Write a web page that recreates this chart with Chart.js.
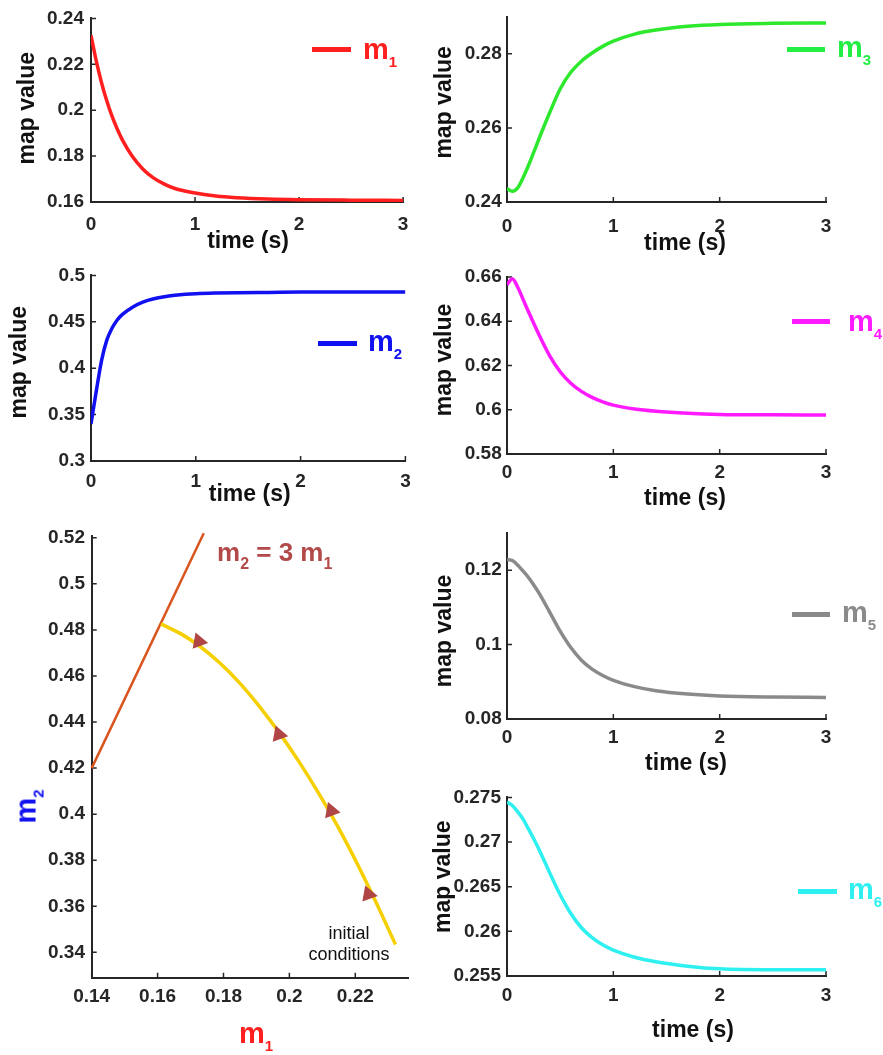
<!DOCTYPE html>
<html><head><meta charset="utf-8">
<script src="https://cdn.jsdelivr.net/npm/chart.js@4.4.1/dist/chart.umd.min.js"></script>
<style>
html,body{margin:0;padding:0;background:#fff;}
#root{position:relative;width:883px;height:1055px;overflow:hidden;font-family:"Liberation Sans",Arial,Helvetica,sans-serif;}
canvas{position:absolute;}
.lab{position:absolute;white-space:nowrap;line-height:1;}
.ln{position:absolute;height:5px;}
</style></head><body><div id="root"></div>
<script>
// ---------- data ----------
const times = [0, 0.05, 0.1, 0.15, 0.2, 0.25, 0.3, 0.4, 0.5, 0.6, 0.7, 0.8, 0.9, 1.0, 1.2, 1.4, 1.7, 2.0, 2.5, 3.0];
const m1 = [0.2326, 0.2216, 0.2122, 0.2043, 0.1976, 0.1920, 0.1872, 0.1797, 0.1743, 0.1705, 0.1679, 0.1660, 0.1648, 0.1639, 0.1626, 0.1619, 0.1613, 0.1610, 0.1608, 0.1607];
const m2 = [0.340, 0.375, 0.408, 0.430, 0.443, 0.452, 0.458, 0.466, 0.4715, 0.4748, 0.477, 0.4785, 0.4796, 0.4803, 0.481, 0.4814, 0.4817, 0.482, 0.482, 0.482];
const m3 = [0.2436, 0.2429, 0.2438, 0.2465, 0.2497, 0.2533, 0.2570, 0.2640, 0.2705, 0.2750, 0.2780, 0.2802, 0.2820, 0.2834, 0.2853, 0.2864, 0.2874, 0.2879, 0.2882, 0.2883];
const m4 = [0.6565, 0.6592, 0.6555, 0.6500, 0.6445, 0.6392, 0.6340, 0.6245, 0.6172, 0.6120, 0.6083, 0.6056, 0.6036, 0.6021, 0.6003, 0.5993, 0.5984, 0.5979, 0.5977, 0.5976];
const m5 = [0.1229, 0.1226, 0.1214, 0.1198, 0.1181, 0.1161, 0.1139, 0.1088, 0.1036, 0.0992, 0.0958, 0.0934, 0.0917, 0.0904, 0.0887, 0.0876, 0.0867, 0.0862, 0.0859, 0.0858];
const m6 = [0.2745, 0.2741, 0.2734, 0.2726, 0.2715, 0.2704, 0.2692, 0.2666, 0.2641, 0.2620, 0.2604, 0.2593, 0.2585, 0.2579, 0.2571, 0.2566, 0.2561, 0.2558, 0.2557, 0.2557];

// phase portrait (m1, m2)
const phaseM1 = [0.161, 0.167, 0.173, 0.179, 0.185, 0.191, 0.197, 0.203, 0.209, 0.215, 0.221, 0.2265, 0.2322];
const phaseM2 = [0.4826, 0.4784, 0.4727, 0.4655, 0.4568, 0.4466, 0.4352, 0.4226, 0.4088, 0.3938, 0.3773, 0.3611, 0.3434];
const lineM1 = [0.14, 0.174];          // m2 = 3 m1
const lineM2 = [0.42, 0.522];
const arrowM1 = [0.1725, 0.1968, 0.2127, 0.2240];
const arrowM2 = [0.4750, 0.4346, 0.4014, 0.3652];

// tick labels
const timeTicks = [0, 1, 2, 3];
const yTicks1 = [0.16, 0.18, 0.2, 0.22, 0.24];
const yTicks2 = [0.3, 0.35, 0.4, 0.45, 0.5];
const yTicks3 = [0.24, 0.26, 0.28];
const yTicks4 = [0.58, 0.6, 0.62, 0.64, 0.66];
const yTicks5 = [0.08, 0.1, 0.12];
const yTicks6 = [0.255, 0.26, 0.265, 0.27, 0.275];
const phaseXTicks = [0.14, 0.16, 0.18, 0.2, 0.22];
const phaseYTicks = [0.34, 0.36, 0.38, 0.4, 0.42, 0.44, 0.46, 0.48, 0.5, 0.52];

// ---------- drawing ----------
const root = document.getElementById('root');
const FONT = '"Liberation Sans", Arial, Helvetica, sans-serif';
const AX = '#262626';
const fmt = v => String(Math.round(v * 10000) / 10000);
const pts = (xs, ys) => xs.map((x, i) => ({x: x, y: ys[i]}));

const inwardTicks = {
  id: 'inward',
  beforeDatasetsDraw(chart) {
    const {ctx, chartArea: a, scales: {x, y}} = chart;
    ctx.save(); ctx.strokeStyle = AX; ctx.lineWidth = 1.5; ctx.beginPath();
    x.ticks.forEach(t => { const px = x.getPixelForValue(t.value); ctx.moveTo(px, a.bottom); ctx.lineTo(px, a.bottom - 5); });
    y.ticks.forEach(t => { const py = y.getPixelForValue(t.value); ctx.moveTo(a.left, py); ctx.lineTo(a.left + 5, py); });
    ctx.stroke(); ctx.restore();
  }
};
const titleShift = {
  id: 'tshift',
  afterLayout(chart, args, opts) {
    ['x', 'y'].forEach(id => {
      const s = chart.scales[id];
      if (!s || s._shifted) return;
      const d = (opts && opts[id]) || {};
      const orig = s.drawTitle.bind(s);
      s.drawTitle = function () { const c = this.ctx; c.save(); c.translate(d.dx || 0, d.dy || 0); orig(); c.restore(); };
      s._shifted = true;
    });
  }
};

function panel(p) {
  const c = document.createElement('canvas');
  c.width = p.W; c.height = p.H;
  c.style.left = p.L + 'px'; c.style.top = p.T + 'px';
  c.style.width = p.W + 'px'; c.style.height = p.H + 'px';
  root.appendChild(c);
  const tickFont = {family: FONT, size: 19, weight: 'bold'};
  const titleFont = {family: FONT, size: 23, weight: 'bold'};
  new Chart(c, {
    type: 'line',
    data: {datasets: p.datasets},
    options: {
      responsive: false, animation: false, events: [],
      layout: {padding: {left: 0, top: p.pt - p.T, right: p.L + p.W - p.pr, bottom: 0}},
      plugins: {
        legend: {display: false}, tooltip: {enabled: false}, title: {display: false},
        tshift: {x: {dx: p.xdx || 0}, y: {dy: p.ydy || 0}}
      },
      scales: {
        x: {
          type: 'linear', position: 'bottom', min: p.xmin, max: p.xmax,
          afterFit: s => { s.height = p.T + p.H - p.pb; },
          afterBuildTicks: s => { s.ticks = p.xticks.map(v => ({value: v})); },
          ticks: {font: tickFont, color: AX, padding: p.xtp, maxRotation: 0, autoSkip: false, callback: fmt},
          grid: {display: false, drawTicks: false},
          border: {display: true, color: AX, width: 2},
          title: p.xtitle ? {display: true, text: p.xtitle, font: titleFont, color: '#111', padding: {top: 0, bottom: p.xtpad}} : {display: false}
        },
        y: {
          type: 'linear', position: 'left', min: p.ymin, max: p.ymax,
          afterFit: s => { s.width = p.pl - p.L; },
          afterBuildTicks: s => { s.ticks = p.yticks.map(v => ({value: v})); },
          ticks: {font: tickFont, color: AX, padding: p.ytp, autoSkip: false, callback: fmt},
          grid: {display: false, drawTicks: false},
          border: {display: true, color: AX, width: 2},
          title: p.ytitle ? {display: true, text: p.ytitle, font: titleFont, color: '#111', padding: {top: p.ytpad, bottom: 0}} : {display: false}
        }
      }
    },
    plugins: [inwardTicks, titleShift]
  });
}

function curve(ys, color) {
  return {data: pts(times, ys), borderColor: color, borderWidth: 3.5, pointRadius: 0, fill: false, cubicInterpolationMode: 'monotone'};
}

const common = {xmin: 0, xmax: 3, xticks: timeTicks, xtitle: 'time (s)', ytitle: 'map value'};

panel(Object.assign({}, common, {L: 0, T: 0, W: 420, H: 258, pl: 91, pr: 409, pt: 16, pb: 202,
  ymin: 0.16, ymax: 0.24, yticks: yTicks1, ytp: 7, xtp: 11.6, ytpad: 14.2, ydy: -2, xtpad: 2.2, xdx: 1,
  datasets: [curve(m1, '#ff1f1f')]}));
panel(Object.assign({}, common, {L: 420, T: 0, W: 463, H: 258, pl: 507, pr: 826, pt: 16, pb: 202,
  ymin: 0.24, ymax: 0.29, yticks: yTicks3, ytp: 5.3, xtp: 13.6, ytpad: 11.2, ydy: -7, xtpad: 0.2, xdx: 18.5,
  datasets: [curve(m3, '#2ee82e')]}));
panel(Object.assign({}, common, {L: 0, T: 258, W: 420, H: 252, pl: 91, pr: 408, pt: 275, pb: 461,
  ymin: 0.3, ymax: 0.5, yticks: yTicks2, ytp: 6, xtp: 9.3, ytpad: 6.2, ydy: -6, xtpad: 1.2, xdx: 1.5,
  datasets: [curve(m2, '#1010f0')]}));
panel(Object.assign({}, common, {L: 420, T: 258, W: 463, H: 262, pl: 507, pr: 826, pt: 277, pb: 454,
  ymin: 0.58, ymax: 0.66, yticks: yTicks4, ytp: 5.3, xtp: 7.6, ytpad: 11.2, ydy: -5.5, xtpad: 7.2, xdx: 18.5,
  datasets: [curve(m4, '#ff1aff')]}));
panel(Object.assign({}, common, {L: 420, T: 515, W: 463, H: 265, pl: 507, pr: 826, pt: 533, pb: 719,
  ymin: 0.08, ymax: 0.13, yticks: yTicks5, ytp: 5.3, xtp: 7.6, ytpad: 11.2, ydy: 5, xtpad: 2.2, xdx: 19.5,
  datasets: [curve(m5, '#8a8a8a')]}));
panel(Object.assign({}, common, {L: 420, T: 780, W: 463, H: 275, pl: 507, pr: 826, pt: 792, pb: 976,
  ymin: 0.255, ymax: 0.275, yticks: yTicks6, ytp: 6, xtp: 8.3, ytpad: 10.2, ydy: -10, xtpad: 10.2, xdx: 26.5,
  datasets: [curve(m6, '#2ef0f0')]}));

// phase portrait
panel({L: 0, T: 510, W: 420, H: 545, pl: 91.7, pr: 408, pt: 535.5, pb: 977.7,
  xmin: 0.14, xmax: 0.236, ymin: 0.329, ymax: 0.521, xticks: phaseXTicks, yticks: phaseYTicks,
  ytp: 6.7, xtp: 7.9,
  datasets: [
    {data: pts(arrowM1, arrowM2), showLine: false, pointStyle: 'triangle', pointRadius: 9.5, pointRotation: 100,
     pointBackgroundColor: '#b04545', pointBorderWidth: 0, borderColor: '#b04545', backgroundColor: '#b04545'},
    {data: pts(phaseM1, phaseM2), borderColor: '#f5cf00', borderWidth: 3.5, pointRadius: 0, fill: false, cubicInterpolationMode: 'monotone'},
    {data: pts(lineM1, lineM2), borderColor: '#d9541e', borderWidth: 2.5, pointRadius: 0, fill: false, tension: 0, clip: false}
  ]});

// ---------- HTML labels (legends / subscripted titles) ----------
function txt(html, left, baseline, size, color, weight) {
  const d = document.createElement('div');
  d.className = 'lab';
  d.style.left = left + 'px';
  d.style.top = (baseline - 0.8465 * size) + 'px';
  d.style.fontSize = size + 'px';
  d.style.color = color;
  d.style.fontWeight = weight || 'bold';
  d.innerHTML = html;
  root.appendChild(d);
  return d;
}
function sub(s, size, drop) { return '<span style="font-size:' + size + 'px;position:relative;top:' + drop + 'px">' + s + '</span>'; }
function legLine(x1, x2, y, color) {
  const d = document.createElement('div');
  d.className = 'ln';
  d.style.left = x1 + 'px'; d.style.width = (x2 - x1) + 'px'; d.style.top = (y - 2.5) + 'px'; d.style.background = color;
  root.appendChild(d);
}
const legends = [
  {x1: 312, x2: 351, y: 49, tx: 363, base: 60, name: '1', color: '#ff1f1f'},
  {x1: 787, x2: 825, y: 49, tx: 837, base: 58, name: '3', color: '#22ee44'},
  {x1: 318, x2: 357, y: 343, tx: 368, base: 352, name: '2', color: '#1010f0'},
  {x1: 792, x2: 830, y: 321, tx: 848, base: 332, name: '4', color: '#ff1aff'},
  {x1: 792, x2: 830, y: 614, tx: 842, base: 623, name: '5', color: '#8a8a8a'},
  {x1: 798, x2: 837, y: 891, tx: 848, base: 900, name: '6', color: '#2ef0f0'}
];
legends.forEach(l => { legLine(l.x1, l.x2, l.y, l.color); txt('m' + sub(l.name, 15, 8), l.tx, l.base, 29, l.color); });

txt('m' + sub('2', 16, 8) + ' = 3 m' + sub('1', 16, 8), 217, 561, 26, '#b34a4a');
txt('m' + sub('1', 15, 8), 239, 1044, 29, '#ff1f1f');
const yl = txt('m' + sub('2', 15, 8), 0, 0, 29, '#1010f0');
const w = yl.offsetWidth, h = yl.offsetHeight;
yl.style.left = (26 - w / 2) + 'px'; yl.style.top = (806 - h / 2) + 'px'; yl.style.transform = 'rotate(-90deg)';
const ic = document.createElement('div');
ic.className = 'lab';
ic.style.cssText += 'left:290px;width:118px;top:923px;font-size:18px;line-height:21px;text-align:center;color:#111;';
ic.innerHTML = 'initial<br>conditions';
root.appendChild(ic);
</script>
</body></html>
